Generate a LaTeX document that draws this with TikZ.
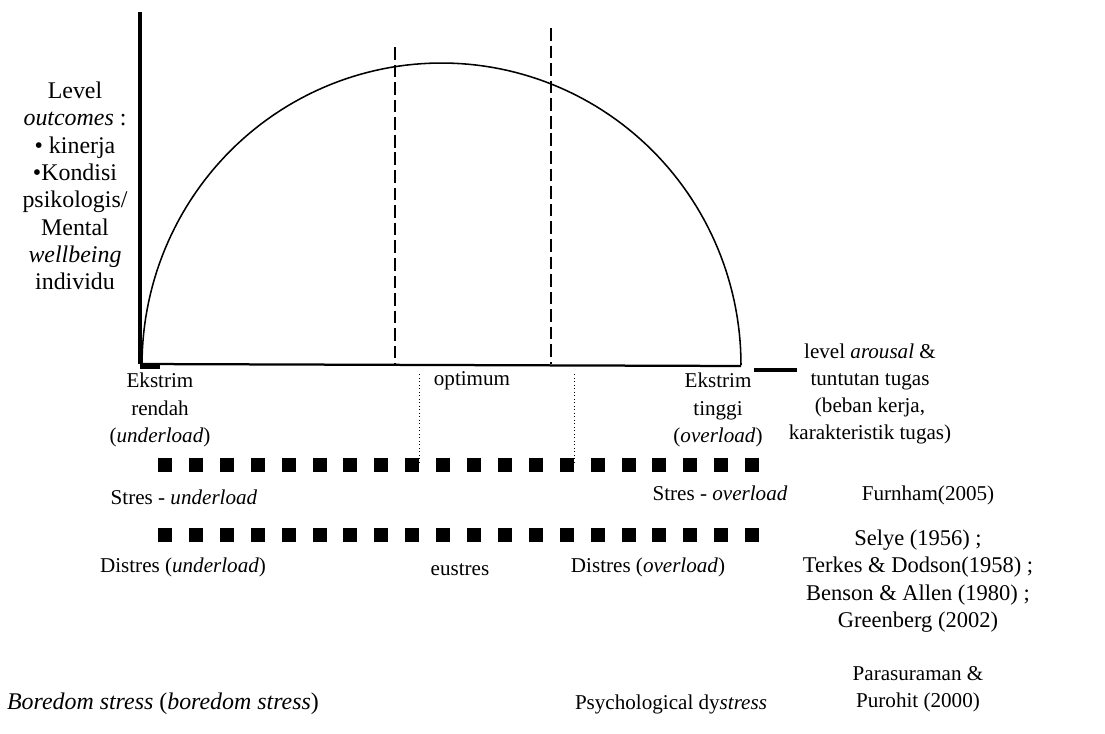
\documentclass[tikz,border=0pt]{standalone}
\usepackage{fontspec}
\setmainfont{Liberation Serif}
\begin{document}
\begin{tikzpicture}[x=0.025cm,y=-0.025cm,
  lbl/.style={inner sep=0pt,align=center,font=\fontsize{15}{19.4}\selectfont},
  big/.style={font=\fontsize{17}{19.4}\selectfont},
  axis/.style={line width=2.4pt},
  guide/.style={line width=1.9pt,dash pattern=on 9pt off 3.5pt},
  thin guide/.style={line width=0.5pt,dotted},
  sq/.style={fill=black,draw=none}]
\useasboundingbox (0,0) rectangle (1105,733);
% axes
\coordinate (ytop) at (140,12);
\coordinate (org) at (140,364);
\coordinate (xend) at (741,366);
\draw[axis] (ytop) -- (org);
\draw[line width=1.6pt] (org) -- (xend);
\coordinate (s1) at (754,370);
\coordinate (s2) at (797,370);
\draw[line width=2.8pt] (s1) -- (s2);
\draw[line width=2.6pt] (140,367) -- (160,367);
% curve
\draw[line width=1.1pt] plot[domain=180:0,samples=120] ({441.5+299.5*cos(\x)},{365-302*sin(\x)});
% dashed verticals
\coordinate (d1t) at (395,47); \coordinate (d1b) at (395,364);
\coordinate (d2t) at (551,28); \coordinate (d2b) at (551,364);
\draw[guide] (d1t) -- (d1b);
\draw[guide] (d2t) -- (d2b);
% dotted verticals
\coordinate (t1t) at (419,374); \coordinate (t1b) at (419,462);
\coordinate (t2t) at (574,374); \coordinate (t2b) at (574,462);
\draw[thin guide] (t1t) -- (t1b);
\draw[thin guide] (t2t) -- (t2b);
% square rows
\foreach \i in {0,...,19}{
  \fill[sq] ({165+\i*30.9-7},{465-7}) rectangle ++(14,14);
  \fill[sq] ({165+\i*30.9-7},{535-7}) rectangle ++(14,14);
}
% left label
\node[lbl,big] (ylab) at (75,186) {Level\\\textit{outcomes} :\\• kinerja\\•Kondisi\\psikologis/\\Mental\\\textit{wellbeing}\\individu};
% x labels
\node[lbl] (xlab) at (870,394) {level \textit{arousal} \&\\tuntutan tugas\\(beban kerja,\\karakteristik tugas)};
\node[lbl] (ekl) at (160,410) {Ekstrim\\rendah\\(\textit{underload})};
\node[lbl] (opt) at (472,381) {optimum};
\node[lbl] (ekh) at (718,410) {Ekstrim\\tinggi\\(\textit{overload})};
\node[lbl] (su) at (184,497) {Stres - \textit{underload}};
\node[lbl] (so) at (720,493) {Stres - \textit{overload}};
\node[lbl] (du) at (183,567) {Distres (\textit{underload})};
\node[lbl] (eu) at (460,570) {eustres};
\node[lbl] (do) at (648,567) {Distres (\textit{overload})};
\node[lbl,font=\fontsize{17}{19.4}\selectfont] (bs) at (163,704) {\textit{Boredom stress} (\textit{boredom stress})};
\node[lbl] (pd) at (671,704) {Psychological dy\textit{stress}};
% references
\node[lbl] (r1) at (928,495) {Furnham(2005)};
\node[lbl,font=\fontsize{16}{19.4}\selectfont] (r2) at (918,581) {Selye (1956) ;\\Terkes \& Dodson(1958) ;\\Benson \& Allen (1980) ;\\Greenberg (2002)};
\node[lbl] (r3) at (918,689) {Parasuraman \&\\Purohit (2000)};
\end{tikzpicture}
\end{document}
